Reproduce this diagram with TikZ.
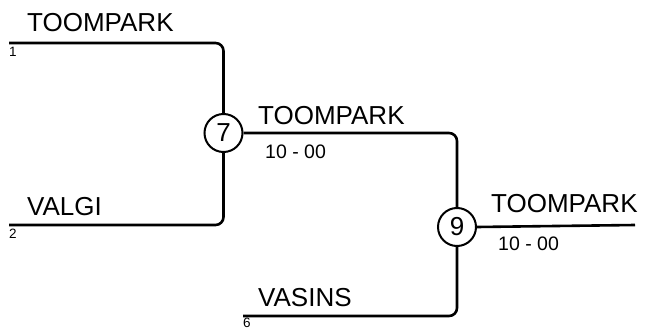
\documentclass[tikz,border=0pt]{standalone}
\usepackage{fontspec}
\setmainfont{Liberation Sans}
\begin{document}
\begin{tikzpicture}[x=1pt,y=-1pt,
  wire/.style={line width=2.6pt, rounded corners=8pt},
  match/.style={circle, draw, line width=2pt, minimum size=38pt, inner sep=0pt, font=\fontsize{26}{26}\selectfont},
  team/.style={anchor=base west, inner sep=0pt, font=\fontsize{26}{26}\selectfont},
  score/.style={anchor=base west, inner sep=0pt, font=\fontsize{19.5}{19.5}\selectfont},
  seed/.style={anchor=base west, inner sep=0pt, font=\fontsize{13.5}{13.5}\selectfont}]
\useasboundingbox (0,0) rectangle (648,329);
\node[match] (m7) at (223.5,133) {7};
\node[match] (m9) at (457,227) {9};
\coordinate (s1) at (9,43);
\coordinate (s2) at (9,225);
\coordinate (s6) at (243,316);
\coordinate (fin) at (635,225);
\draw[wire] (s1) -| (m7.north);
\draw[wire] (s2) -| (m7.south);
\draw[wire] (m7.east) -| (m9.north);
\draw[wire] (s6) -| (m9.south);
\draw[wire] (m9.east) -- (fin);
\node[team] (t1) at (27,32) {TOOMPARK};
\node[seed] (n1) at (9,57) {1};
\node[team] (t2) at (27,215) {VALGI};
\node[seed] (n2) at (9,238) {2};
\node[team] (t7) at (258,124) {TOOMPARK};
\node[score] (r7) at (265,158) {10 - 00};
\node[team] (t9) at (491,212) {TOOMPARK};
\node[score] (r9) at (498,250) {10 - 00};
\node[team] (t6) at (258,306) {VASINS};
\node[seed] (n6) at (243,327) {6};
\end{tikzpicture}
\end{document}
